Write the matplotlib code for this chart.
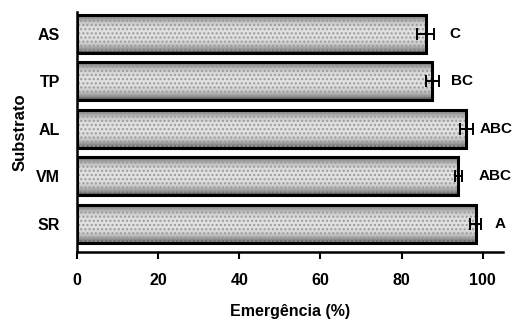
import matplotlib.pyplot as plt
import numpy as np

plt.rcParams['font.family'] = ['Liberation Sans', 'DejaVu Sans']

substratos = ["SR", "VM", "AL", "TP", "AS"]
emergencia = [98.3, 94.0, 96.0, 87.6, 85.9]
erro = [1.4, 0.9, 1.7, 1.6, 2.0]
letras = ["A", "ABC", "ABC", "BC", "C"]
# distance between error bar end and letter (x units)
desloc = [3.2, 4.0, 1.6, 3.0, 3.8]

fig = plt.figure(figsize=(5.15, 3.22), dpi=100)
ax = fig.add_axes([0.1495, 0.2174, 0.8272, 0.7453])

pos = np.arange(len(substratos))
altura = 0.8

# stippled look: dark at top/bottom edges, lighter in the middle
t = np.linspace(-1, 1, 60)
perfil = 0.88 - 0.58 * np.abs(t) ** 3
grad = np.tile(perfil[:, None], (1, 10))

barras = ax.barh(pos, emergencia, height=altura, color="none",
                 edgecolor="black", linewidth=2.2, zorder=3)
for b, p, v in zip(barras, pos, emergencia):
    im = ax.imshow(grad, cmap="gray", vmin=0, vmax=1, aspect="auto",
                   extent=(0, v, p - altura / 2, p + altura / 2),
                   zorder=2, interpolation="bilinear")
    im.set_clip_path(b)
ax.barh(pos, emergencia, height=altura, color="none", hatch="....",
        edgecolor="#9a9a9a", linewidth=0, zorder=2.5)

ax.errorbar(emergencia, pos, xerr=erro, fmt="none", ecolor="black",
            elinewidth=1.4, capsize=4, capthick=1.4, zorder=4)

for p, v, e, l, d in zip(pos, emergencia, erro, letras, desloc):
    ax.text(v + e + d, p, l, va="center", ha="left", fontsize=11,
            fontweight="bold")

ax.set_xlim(0, 105)
ax.set_ylim(-0.59, 4.46)
ax.set_xticks([0, 20, 40, 60, 80, 100])
ax.set_yticks(pos)
ax.set_yticklabels(substratos)
ax.tick_params(axis="y", length=0, pad=12, labelsize=11.5)
ax.tick_params(axis="x", length=5, width=1.5, pad=10, labelsize=11.5)
for lab in ax.get_xticklabels() + ax.get_yticklabels():
    lab.set_fontweight("bold")

ax.spines["top"].set_visible(False)
ax.spines["right"].set_visible(False)
ax.spines["left"].set_linewidth(1.8)
ax.spines["bottom"].set_linewidth(1.8)

ax.set_xlabel("Emergência (%)", fontsize=11.5, fontweight="bold", labelpad=12)
ax.set_ylabel("Substrato", fontsize=12, fontweight="bold", labelpad=6)

fig.savefig("out.png", dpi=100)
